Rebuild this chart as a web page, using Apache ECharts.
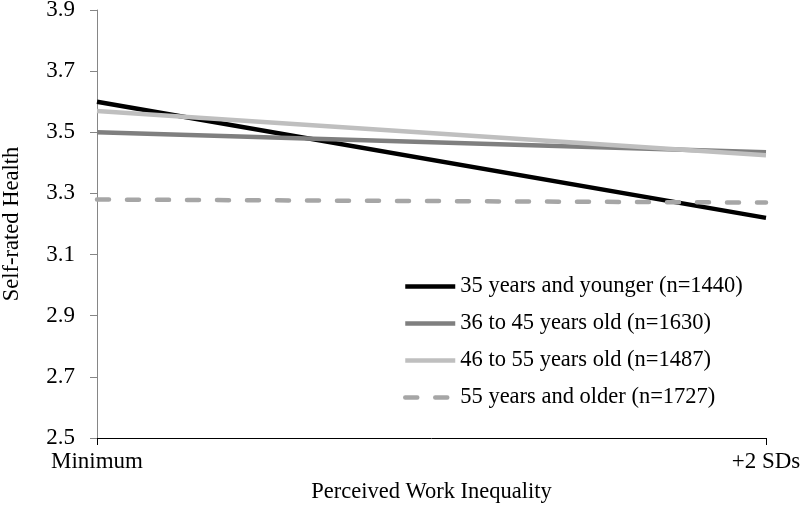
<!DOCTYPE html>
<html>
<head>
<meta charset="utf-8">
<script src="https://cdn.jsdelivr.net/npm/echarts@6/dist/echarts.min.js"></script>
<style>html,body{margin:0;padding:0;background:#fff;}#c{width:800px;height:506px;}</style>
</head>
<body>
<div id="c"></div>
<script>
var categories = ['Minimum', '+2 SDs'];
var seriesNames = ['35 years and younger (n=1440)', '36 to 45 years old (n=1630)', '46 to 55 years old (n=1487)', '55 years and older (n=1727)'];
var young = [3.60, 3.22];
var mid1 = [3.50, 3.435];
var mid2 = [3.57, 3.425];
var old = [3.28, 3.27];
var yTicks = { min: 2.5, max: 3.9, interval: 0.2 };

var FONT = '"Liberation Serif", "Times New Roman", serif';
var chart = echarts.init(document.getElementById('c'), null, { renderer: 'canvas' });

function mk(name, data, color, dashed) {
  return {
    name: name, type: 'line', data: data, symbol: 'none', silent: true,
    lineStyle: { color: color, width: 4.5, type: dashed ? [12, 18] : 'solid', cap: dashed ? 'round' : 'butt' },
    itemStyle: { color: color }
  };
}

chart.setOption({
  animation: false,
  backgroundColor: '#fff',
  textStyle: { fontFamily: FONT },
  grid: { left: 97, right: 34, top: 10, bottom: 68, containLabel: false, outerBoundsMode: 'none' },
  legend: {
    orient: 'vertical', left: 403, top: 275, padding: 0,
    itemWidth: 50, itemHeight: 14, itemGap: 14,
    itemStyle: { opacity: 0 },
    lineStyle: { width: 4.5 },
    textStyle: { fontFamily: FONT, fontSize: 22.5, color: '#000', lineHeight: 22 },
    data: seriesNames
  },
  xAxis: {
    type: 'category', data: categories, boundaryGap: false,
    name: 'Perceived Work Inequality', nameLocation: 'middle', nameGap: 43,
    nameTextStyle: { fontFamily: FONT, fontSize: 22.5, color: '#000' },
    axisLine: { lineStyle: { color: '#000', width: 1 } },
    axisTick: { show: true, alignWithLabel: true, length: 7, lineStyle: { color: '#000' } },
    axisLabel: { fontFamily: FONT, fontSize: 23, color: '#000', margin: 12 },
    splitLine: { show: false }
  },
  yAxis: {
    type: 'value', min: yTicks.min, max: yTicks.max, interval: yTicks.interval,
    name: 'Self-rated Health', nameLocation: 'middle', nameGap: 73,
    nameTextStyle: { fontFamily: FONT, fontSize: 22.5, color: '#000' },
    axisLine: { show: true, lineStyle: { color: '#868686', width: 1 } },
    axisTick: { show: true, length: 7, lineStyle: { color: '#868686' } },
    axisLabel: { fontFamily: FONT, fontSize: 23, color: '#000', margin: 22, formatter: function (v) { return v.toFixed(1); } },
    splitLine: { show: false }
  },
  series: [
    mk(seriesNames[0], young, '#000000', false),
    mk(seriesNames[1], mid1, '#7f7f7f', false),
    mk(seriesNames[2], mid2, '#bfbfbf', false),
    mk(seriesNames[3], old, '#a6a6a6', true)
  ]
});
</script>
</body>
</html>
